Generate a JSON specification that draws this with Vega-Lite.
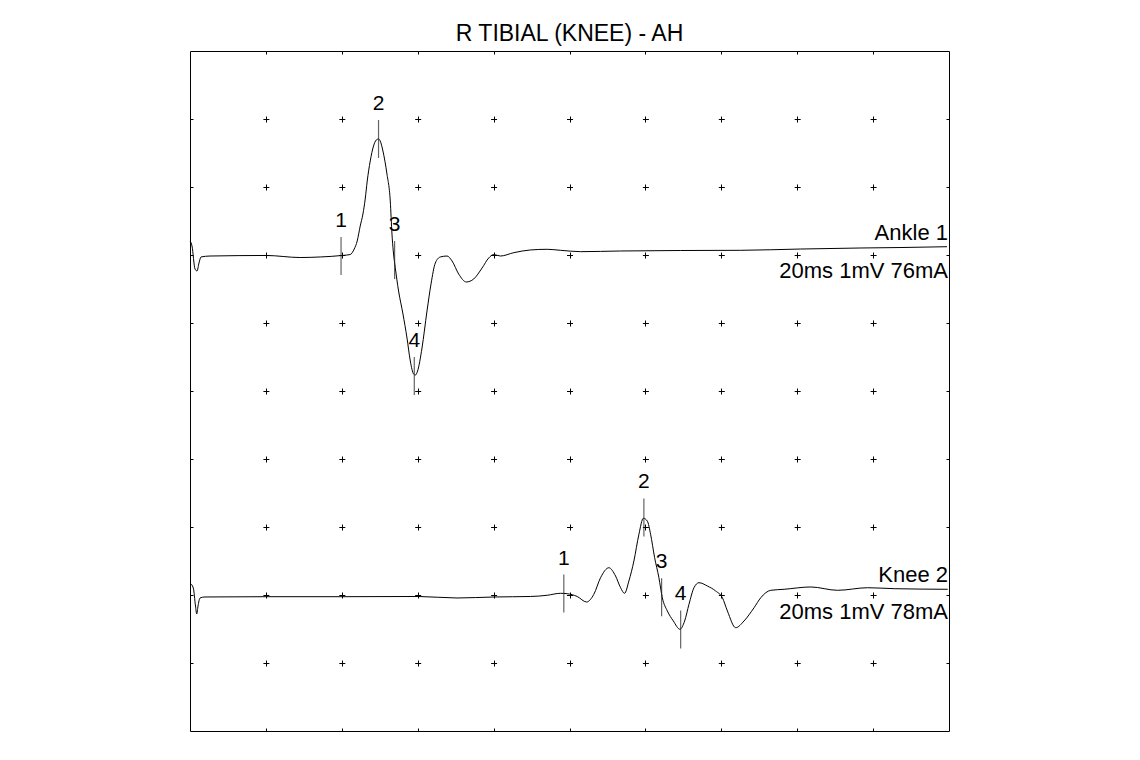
{
  "$schema": "https://vega.github.io/schema/vega-lite/v6.json",
  "width": 759,
  "height": 680,
  "autosize": {"type": "none"},
  "padding": {"left": 190, "top": 51, "right": 191, "bottom": 29},
  "background": "white",
  "title": {"text": "R TIBIAL (KNEE) - AH", "font": "Liberation Sans", "fontSize": 23, "fontWeight": "normal", "color": "#000", "baseline": "alphabetic", "offset": 9, "dy": 22},
  "config": {
    "view": {"stroke": "#000", "strokeWidth": 1},
    "text": {"font": "Liberation Sans", "fontSize": 22, "color": "#000"}
  },
  "datasets": {
    "traces": [
      {"trace": "Ankle", "t": 0, "v": 7.206},
      {"trace": "Ankle", "t": 0.053, "v": 7.132},
      {"trace": "Ankle", "t": 0.132, "v": 6.794},
      {"trace": "Ankle", "t": 0.185, "v": 6.765},
      {"trace": "Ankle", "t": 0.237, "v": 6.882},
      {"trace": "Ankle", "t": 0.29, "v": 6.971},
      {"trace": "Ankle", "t": 0.528, "v": 6.985},
      {"trace": "Ankle", "t": 2.005, "v": 6.993},
      {"trace": "Ankle", "t": 2.902, "v": 6.963},
      {"trace": "Ankle", "t": 3.43, "v": 6.971},
      {"trace": "Ankle", "t": 4.011, "v": 6.993},
      {"trace": "Ankle", "t": 4.222, "v": 7.007},
      {"trace": "Ankle", "t": 4.327, "v": 7.088},
      {"trace": "Ankle", "t": 4.406, "v": 7.206},
      {"trace": "Ankle", "t": 4.485, "v": 7.426},
      {"trace": "Ankle", "t": 4.557, "v": 7.603},
      {"trace": "Ankle", "t": 4.617, "v": 7.824},
      {"trace": "Ankle", "t": 4.67, "v": 8.088},
      {"trace": "Ankle", "t": 4.749, "v": 8.382},
      {"trace": "Ankle", "t": 4.836, "v": 8.603},
      {"trace": "Ankle", "t": 4.908, "v": 8.691},
      {"trace": "Ankle", "t": 4.968, "v": 8.706},
      {"trace": "Ankle", "t": 5.013, "v": 8.676},
      {"trace": "Ankle", "t": 5.084, "v": 8.529},
      {"trace": "Ankle", "t": 5.19, "v": 8.191},
      {"trace": "Ankle", "t": 5.277, "v": 7.794},
      {"trace": "Ankle", "t": 5.322, "v": 7.309},
      {"trace": "Ankle", "t": 5.356, "v": 7.059},
      {"trace": "Ankle", "t": 5.409, "v": 6.813},
      {"trace": "Ankle", "t": 5.496, "v": 6.471},
      {"trace": "Ankle", "t": 5.612, "v": 6.132},
      {"trace": "Ankle", "t": 5.718, "v": 5.779},
      {"trace": "Ankle", "t": 5.805, "v": 5.441},
      {"trace": "Ankle", "t": 5.892, "v": 5.25},
      {"trace": "Ankle", "t": 5.937, "v": 5.235},
      {"trace": "Ankle", "t": 5.997, "v": 5.294},
      {"trace": "Ankle", "t": 6.113, "v": 5.632},
      {"trace": "Ankle", "t": 6.245, "v": 6.176},
      {"trace": "Ankle", "t": 6.351, "v": 6.574},
      {"trace": "Ankle", "t": 6.464, "v": 6.882},
      {"trace": "Ankle", "t": 6.596, "v": 6.971},
      {"trace": "Ankle", "t": 6.773, "v": 6.985},
      {"trace": "Ankle", "t": 6.905, "v": 6.912},
      {"trace": "Ankle", "t": 7.079, "v": 6.721},
      {"trace": "Ankle", "t": 7.282, "v": 6.603},
      {"trace": "Ankle", "t": 7.475, "v": 6.647},
      {"trace": "Ankle", "t": 7.697, "v": 6.809},
      {"trace": "Ankle", "t": 7.871, "v": 6.956},
      {"trace": "Ankle", "t": 8.003, "v": 7.007},
      {"trace": "Ankle", "t": 8.179, "v": 6.985},
      {"trace": "Ankle", "t": 8.53, "v": 7.034},
      {"trace": "Ankle", "t": 8.971, "v": 7.074},
      {"trace": "Ankle", "t": 9.412, "v": 7.084},
      {"trace": "Ankle", "t": 9.763, "v": 7.069},
      {"trace": "Ankle", "t": 10.29, "v": 7.049},
      {"trace": "Ankle", "t": 11.346, "v": 7.059},
      {"trace": "Ankle", "t": 12.929, "v": 7.066},
      {"trace": "Ankle", "t": 14.512, "v": 7.069},
      {"trace": "Ankle", "t": 16.095, "v": 7.088},
      {"trace": "Ankle", "t": 17.678, "v": 7.103},
      {"trace": "Ankle", "t": 18.734, "v": 7.11},
      {"trace": "Ankle", "t": 19.947, "v": 7.122},
      {"trace": "Knee", "t": 0, "v": 2.176},
      {"trace": "Knee", "t": 0.087, "v": 2.103},
      {"trace": "Knee", "t": 0.145, "v": 1.838},
      {"trace": "Knee", "t": 0.177, "v": 1.721},
      {"trace": "Knee", "t": 0.211, "v": 1.838},
      {"trace": "Knee", "t": 0.264, "v": 1.956},
      {"trace": "Knee", "t": 0.396, "v": 1.971},
      {"trace": "Knee", "t": 2.005, "v": 1.975},
      {"trace": "Knee", "t": 4.011, "v": 1.975},
      {"trace": "Knee", "t": 6.016, "v": 1.978},
      {"trace": "Knee", "t": 7.037, "v": 1.956},
      {"trace": "Knee", "t": 8.021, "v": 1.971},
      {"trace": "Knee", "t": 8.971, "v": 1.978},
      {"trace": "Knee", "t": 9.412, "v": 1.996},
      {"trace": "Knee", "t": 9.763, "v": 2.025},
      {"trace": "Knee", "t": 9.939, "v": 2.019},
      {"trace": "Knee", "t": 10.203, "v": 1.978},
      {"trace": "Knee", "t": 10.449, "v": 1.897},
      {"trace": "Knee", "t": 10.641, "v": 2.01},
      {"trace": "Knee", "t": 10.818, "v": 2.254},
      {"trace": "Knee", "t": 11.037, "v": 2.401},
      {"trace": "Knee", "t": 11.214, "v": 2.279},
      {"trace": "Knee", "t": 11.346, "v": 2.107},
      {"trace": "Knee", "t": 11.451, "v": 2.025},
      {"trace": "Knee", "t": 11.565, "v": 2.206},
      {"trace": "Knee", "t": 11.697, "v": 2.5},
      {"trace": "Knee", "t": 11.829, "v": 2.893},
      {"trace": "Knee", "t": 11.945, "v": 3.128},
      {"trace": "Knee", "t": 12.05, "v": 3.088},
      {"trace": "Knee", "t": 12.137, "v": 2.893},
      {"trace": "Knee", "t": 12.243, "v": 2.549},
      {"trace": "Knee", "t": 12.356, "v": 2.254},
      {"trace": "Knee", "t": 12.446, "v": 1.96},
      {"trace": "Knee", "t": 12.578, "v": 1.765},
      {"trace": "Knee", "t": 12.736, "v": 1.618},
      {"trace": "Knee", "t": 12.91, "v": 1.496},
      {"trace": "Knee", "t": 13.034, "v": 1.618},
      {"trace": "Knee", "t": 13.148, "v": 1.863},
      {"trace": "Knee", "t": 13.28, "v": 2.107},
      {"trace": "Knee", "t": 13.412, "v": 2.181},
      {"trace": "Knee", "t": 13.633, "v": 2.132},
      {"trace": "Knee", "t": 13.852, "v": 2.059},
      {"trace": "Knee", "t": 14.029, "v": 1.96},
      {"trace": "Knee", "t": 14.161, "v": 1.765},
      {"trace": "Knee", "t": 14.38, "v": 1.519},
      {"trace": "Knee", "t": 14.599, "v": 1.618},
      {"trace": "Knee", "t": 14.863, "v": 1.813},
      {"trace": "Knee", "t": 15.04, "v": 1.96},
      {"trace": "Knee", "t": 15.303, "v": 2.069},
      {"trace": "Knee", "t": 15.654, "v": 2.084},
      {"trace": "Knee", "t": 16.359, "v": 2.118},
      {"trace": "Knee", "t": 17.063, "v": 2.069},
      {"trace": "Knee", "t": 17.855, "v": 2.107},
      {"trace": "Knee", "t": 18.557, "v": 2.093},
      {"trace": "Knee", "t": 19.966, "v": 2.084}
    ],
    "markers": [
      {"trace": "Ankle", "n": "1", "t": 3.98, "v": 6.985},
      {"trace": "Ankle", "n": "2", "t": 4.968, "v": 8.706},
      {"trace": "Ankle", "n": "3", "t": 5.391, "v": 6.926},
      {"trace": "Ankle", "n": "4", "t": 5.91, "v": 5.221},
      {"trace": "Knee", "n": "1", "t": 9.85, "v": 2.022},
      {"trace": "Knee", "n": "2", "t": 11.96, "v": 3.14},
      {"trace": "Knee", "n": "3", "t": 12.427, "v": 1.966},
      {"trace": "Knee", "n": "4", "t": 12.929, "v": 1.493}
    ],
    "labels": [
      {"text": "Ankle 1", "t": 20, "v": 7.216},
      {"text": "20ms 1mV 76mA", "t": 20, "v": 6.666},
      {"text": "Knee 2", "t": 20, "v": 2.196},
      {"text": "20ms 1mV 78mA", "t": 20, "v": 1.643}
    ]
  },
  "layer": [
    {
      "data": {"name": "traces"},
      "mark": {"type": "line", "color": "#000", "strokeWidth": 1, "interpolate": "monotone"},
      "encoding": {
        "x": {"field": "t", "type": "quantitative", "scale": {"domain": [0, 20], "nice": false, "zero": false},
          "axis": {"values": [2, 4, 6, 8, 10, 12, 14, 16, 18], "grid": true, "gridColor": "#000", "gridOpacity": 1, "gridWidth": 1, "gridDash": [6, 62], "gridDashOffset": 3, "ticks": false, "labels": false, "domain": false, "title": null}},
        "y": {"field": "v", "type": "quantitative", "scale": {"domain": [0, 10], "nice": false, "zero": false},
          "axis": {"values": [1, 2, 3, 4, 5, 6, 7, 8, 9], "grid": true, "gridColor": "#000", "gridOpacity": 1, "gridWidth": 1, "gridDash": [6, 69.9], "gridDashOffset": 3, "ticks": false, "labels": false, "domain": false, "title": null}},
        "detail": {"field": "trace"}
      }
    },
    {
      "data": {"name": "markers"},
      "mark": {"type": "tick", "orient": "vertical", "size": 38, "thickness": 1.2, "color": "#222"},
      "encoding": {
        "x": {"field": "t", "type": "quantitative"},
        "y": {"field": "v", "type": "quantitative"}
      }
    },
    {
      "data": {"name": "markers"},
      "mark": {"type": "text", "baseline": "alphabetic", "align": "center", "dy": -29, "fontSize": 21},
      "encoding": {
        "x": {"field": "t", "type": "quantitative"},
        "y": {"field": "v", "type": "quantitative"},
        "text": {"field": "n"}
      }
    },
    {
      "data": {"name": "labels"},
      "mark": {"type": "text", "baseline": "alphabetic", "align": "right", "dx": -1},
      "encoding": {
        "x": {"field": "t", "type": "quantitative"},
        "y": {"field": "v", "type": "quantitative"},
        "text": {"field": "text"}
      }
    }
  ]
}
